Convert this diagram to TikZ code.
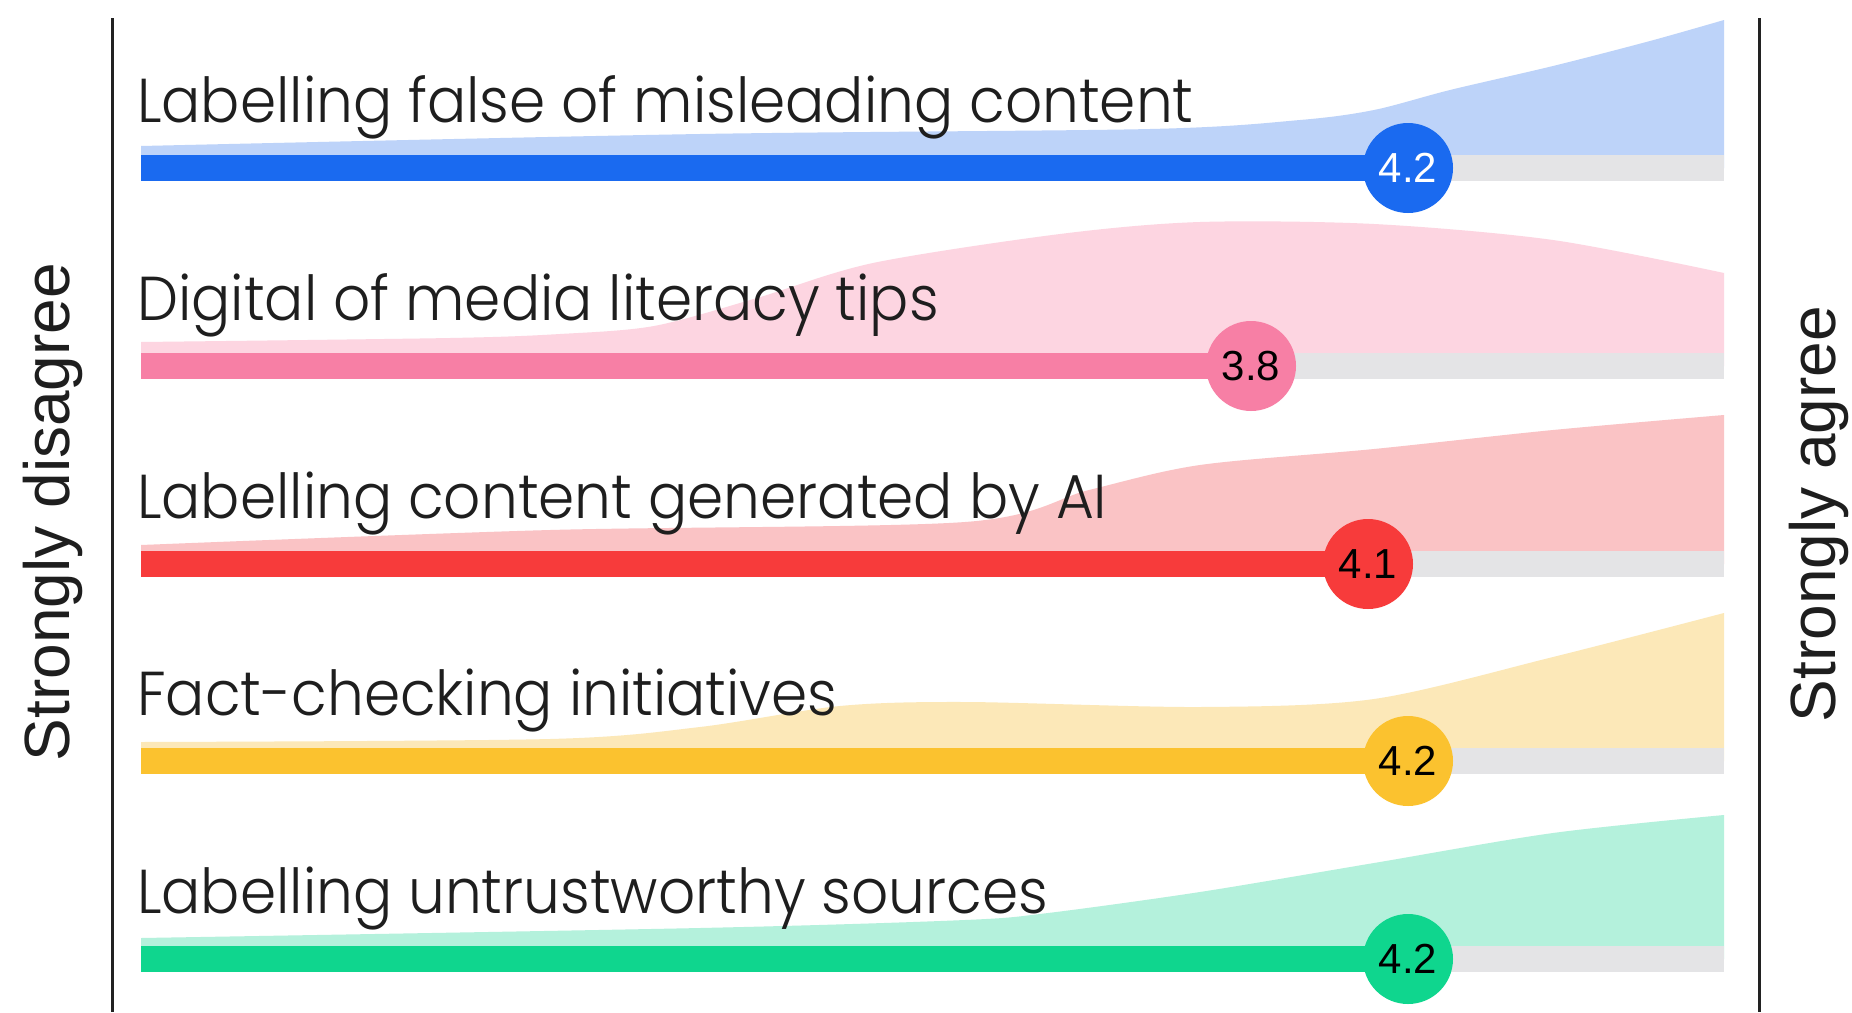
\documentclass[tikz,border=0pt]{standalone}
\usepackage{fontspec}
\setmainfont{Liberation Sans}
\IfFontExistsTF{Poppins Light}
  {\newfontfamily\labfont[FakeStretch=0.938]{Poppins Light}}
  {\newfontfamily\labfont[FakeStretch=0.938]{Poppins}}
\usetikzlibrary{calc}
\definecolor{bbar}{HTML}{1A6AF0}\definecolor{barea}{HTML}{BDD3F9}
\definecolor{pbar}{HTML}{F77FA5}\definecolor{parea}{HTML}{FDD5E1}
\definecolor{rbar}{HTML}{F73B3B}\definecolor{rarea}{HTML}{FAC3C5}
\definecolor{yelbar}{HTML}{FBC22F}\definecolor{yelarea}{HTML}{FCE8B8}
\definecolor{gbar}{HTML}{0FD68E}\definecolor{garea}{HTML}{B4F1DC}
\definecolor{trackc}{HTML}{E4E4E6}
\definecolor{axisc}{HTML}{222222}
\definecolor{textc}{HTML}{1E1E1E}
\begin{document}
\begin{tikzpicture}[x=1pt,y=-1pt,
  rowlabel/.style={anchor=base west,inner sep=0pt,text=textc,font=\labfont\fontsize{62}{70}\selectfont},
  valdot/.style={circle,minimum size=90pt,inner sep=0pt,font=\fontsize{42}{46}\selectfont},
  axisline/.style={draw=axisc,line width=3pt},
  axistitle/.style={rotate=90,inner sep=0pt,text=textc,font=\fontsize{64}{70}\selectfont},
  track/.style={fill=trackc}]
\useasboundingbox[fill=white] (0,0) rectangle (1852,1012);
% axis lines
\coordinate (lt) at (112,18); \coordinate (lb) at (112,1012);
\coordinate (rt) at (1759,18); \coordinate (rb) at (1759,1012);
\draw[axisline] (lt) -- (lb);
\draw[axisline] (rt) -- (rb);
\node[axistitle] (dis) at (53,512) {Strongly disagree};
\node[axistitle] (agr) at (1819,514) {Strongly agree};
% ---- row 1 (blue)
\fill[barea] (141,168) -- plot[smooth,tension=0.5] coordinates {(141,146) (700,134) (1150,129) (1300,120) (1374,110) (1450,90) (1553,66) (1650,41) (1724,20)} -- (1724,168) -- cycle;
\fill[track] (141,155) rectangle (1724,181);
\fill[bbar] (141,155) rectangle (1408,181);
\node[rowlabel] (l1) at (137,122) {Labelling false of misleading content};
\node[valdot,fill=bbar,text=white] (v1) at (1408,168) {4.2};
% ---- row 2 (pink)
\fill[parea] (141,366) -- plot[smooth,tension=0.5] coordinates {(141,342) (450,338) (560,334) (654,326) (757,298) (873,263) (1060,234) (1200,222) (1374,224) (1553,240) (1724,273)} -- (1724,366) -- cycle;
\fill[track] (141,353) rectangle (1724,379);
\fill[pbar] (141,353) rectangle (1251,379);
\node[rowlabel] (l2) at (137,320) {Digital of media literacy tips};
\node[valdot,fill=pbar,text=black] (v2) at (1251,366) {3.8};
% ---- row 3 (red)
\fill[rarea] (141,564) -- plot[smooth,tension=0.5] coordinates {(141,545) (550,530) (965,522) (1089,490) (1200,465) (1374,449) (1553,430) (1724,415)} -- (1724,564) -- cycle;
\fill[track] (141,551) rectangle (1724,577);
\fill[rbar] (141,551) rectangle (1368,577);
\node[rowlabel] (l3) at (137,518) {Labelling content generated by AI};
\node[valdot,fill=rbar,text=black] (v3) at (1368,564) {4.1};
% ---- row 4 (yellow)
\fill[yelarea] (141,761) -- plot[smooth,tension=0.5] coordinates {(141,742) (550,739) (700,727) (840,706) (965,702) (1200,707) (1374,699) (1553,657) (1724,613)} -- (1724,761) -- cycle;
\fill[track] (141,748) rectangle (1724,774);
\fill[yelbar] (141,748) rectangle (1408,774);
\node[rowlabel] (l4) at (137,715) {Fact-checking initiatives};
\node[valdot,fill=yelbar,text=black] (v4) at (1408,761) {4.2};
% ---- row 5 (green)
\fill[garea] (141,959) -- plot[smooth,tension=0.5] coordinates {(141,938) (700,928) (965,920) (1048,913) (1200,892) (1374,863) (1553,833) (1724,815)} -- (1724,959) -- cycle;
\fill[track] (141,946) rectangle (1724,972);
\fill[gbar] (141,946) rectangle (1408,972);
\node[rowlabel] (l5) at (137,913) {Labelling untrustworthy sources};
\node[valdot,fill=gbar,text=black] (v5) at (1408,959) {4.2};
\end{tikzpicture}
\end{document}
